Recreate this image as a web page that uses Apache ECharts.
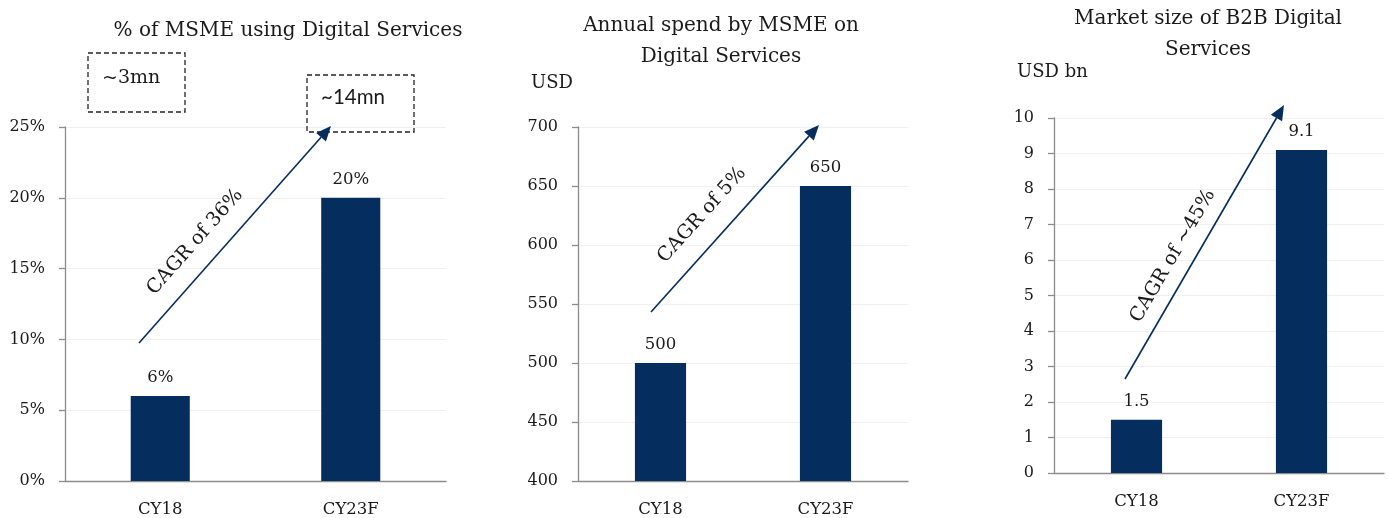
<!DOCTYPE html>
<html>
<head>
<meta charset="utf-8">
<title>MSME Digital Services</title>
<script src="https://cdn.jsdelivr.net/npm/echarts@6/dist/echarts.min.js"></script>
<style>
  html, body { margin: 0; padding: 0; background: #ffffff; }
  #chart { width: 1388px; height: 518px; }
</style>
</head>
<body>
<div id="chart"></div>
<script>
// Categories shared by the three panels
const categories = ['CY18', 'CY23F'];

// Panel 1: share of MSMEs using digital services (%)
const usageShare = [6, 20];
// Panel 2: annual spend per MSME on digital services (USD)
const annualSpend = [500, 650];
// Panel 3: B2B digital services market size (USD bn)
const marketSize = [1.5, 9.1];

// Panel headings and annotation texts
const titles = ['% of MSME using Digital Services', 'Annual spend by MSME on\nDigital Services', 'Market size of B2B Digital\nServices'];
const unitLabels = ['USD', 'USD bn'];
const cagrTexts = ['CAGR of 36%', 'CAGR of 5%', 'CAGR of ~45%'];
const countTexts = ['~3mn', '~14mn'];

const SERIF = '"DejaVu Serif", "Liberation Serif", serif';
const SANS = 'Lato, "Open Sans", sans-serif';
const NAVY = '#052d5d';
const AXIS_GREY = '#8c8c8c';
const GRID_GREY = '#f0f0f0';
const TEXT = '#1a1a1a';

const grids = [
  { left: 65, top: 127, width: 381, height: 354 },
  { left: 578, top: 127, width: 330, height: 354 },
  { left: 1054, top: 118, width: 330, height: 355 }
];

const yRanges = [
  { min: 0, max: 25, interval: 5, fmt: '{value}%' },
  { min: 400, max: 700, interval: 50, fmt: '{value}' },
  { min: 0, max: 10, interval: 1, fmt: '{value}' }
];

const xAxes = grids.map((g, i) => ({
  type: 'category',
  gridIndex: i,
  data: categories,
  axisLine: { lineStyle: { color: AXIS_GREY, width: 1.3 } },
  axisTick: { show: false },
  axisLabel: { color: TEXT, fontFamily: SERIF, fontSize: 16.5, margin: 20 }
}));

const yAxes = yRanges.map((r, i) => ({
  type: 'value',
  gridIndex: i,
  min: r.min,
  max: r.max,
  interval: r.interval,
  axisLine: { show: true, lineStyle: { color: AXIS_GREY, width: 1.3 } },
  axisTick: { show: true, length: 6, lineStyle: { color: AXIS_GREY, width: 1.3 } },
  splitLine: { show: true, lineStyle: { color: GRID_GREY, width: 1 } },
  axisLabel: { color: TEXT, fontFamily: SERIF, fontSize: 16, margin: 20, formatter: r.fmt }
}));

function barSeries(values, idx, fmt) {
  return {
    type: 'bar',
    xAxisIndex: idx,
    yAxisIndex: idx,
    data: values,
    barWidth: '31%',
    itemStyle: { color: NAVY },
    label: {
      show: true,
      position: 'top',
      distance: 10,
      color: TEXT,
      fontFamily: SERIF,
      fontSize: 16.5,
      formatter: fmt
    }
  };
}

// Straight arrow with a filled triangular head
function arrow(x1, y1, x2, y2) {
  const ang = Math.atan2(y2 - y1, x2 - x1);
  const headLen = 15, headHalf = 6.5;
  const bx = x2 - headLen * Math.cos(ang), by = y2 - headLen * Math.sin(ang);
  const px = -Math.sin(ang) * headHalf, py = Math.cos(ang) * headHalf;
  return [
    { type: 'line', z: 100, shape: { x1: x1, y1: y1, x2: bx, y2: by }, style: { stroke: NAVY, lineWidth: 1.6 } },
    { type: 'polygon', z: 100, shape: { points: [[x2, y2], [bx + px, by + py], [bx - px, by - py]] }, style: { fill: NAVY } }
  ];
}

function rotatedText(text, x, y, deg) {
  return {
    type: 'text',
    z: 100,
    x: x, y: y,
    rotation: deg * Math.PI / 180,
    style: { text: text, fill: TEXT, font: '19.5px ' + SERIF, align: 'center', verticalAlign: 'middle' }
  };
}

function dashedBox(x, y, w, h, text, font, dy) {
  return [
    { type: 'rect', z: 100, shape: { x: x, y: y, width: w, height: h }, style: { fill: 'none', stroke: '#222', lineWidth: 1.3, lineDash: [5, 3] } },
    { type: 'text', z: 100, x: x + 14, y: y + h / 2 + dy, style: { text: text, fill: TEXT, font: font, align: 'left', verticalAlign: 'middle' } }
  ];
}

const graphics = [].concat(
  dashedBox(88, 53, 97, 59, countTexts[0], '19px ' + SERIF, -4),
  dashedBox(307, 75, 107, 57, countTexts[1], '20.5px ' + SANS, -6),
  arrow(139, 343, 331, 126),
  arrow(651, 312, 819, 125),
  arrow(1125, 379, 1284, 105),
  [
    rotatedText(cagrTexts[0], 195, 242, 48.5),
    rotatedText(cagrTexts[1], 702, 215, 48),
    rotatedText(cagrTexts[2], 1173, 256, 59.8),
    { type: 'text', x: 531, y: 83, style: { text: unitLabels[0], fill: TEXT, font: '18px ' + SERIF, align: 'left', verticalAlign: 'middle' } },
    { type: 'text', x: 1017, y: 72, style: { text: unitLabels[1], fill: TEXT, font: '18px ' + SERIF, align: 'left', verticalAlign: 'middle' } }
  ]
);

const titleCenters = [[283, 10], [716, 5], [1203, -2]];

const option = {
  backgroundColor: '#ffffff',
  animation: false,
  title: titles.map((t, i) => ({
    text: t,
    left: titleCenters[i][0],
    top: titleCenters[i][1],
    textAlign: 'center',
    textStyle: { color: TEXT, fontFamily: SERIF, fontSize: 20, fontWeight: 'normal', lineHeight: 31 }
  })),
  grid: grids,
  xAxis: xAxes,
  yAxis: yAxes,
  series: [
    barSeries(usageShare, 0, '{c}%'),
    barSeries(annualSpend, 1, '{c}'),
    barSeries(marketSize, 2, '{c}')
  ],
  graphic: graphics
};

const chart = echarts.init(document.getElementById('chart'), null, { renderer: 'canvas' });
chart.setOption(option);
</script>
</body>
</html>
